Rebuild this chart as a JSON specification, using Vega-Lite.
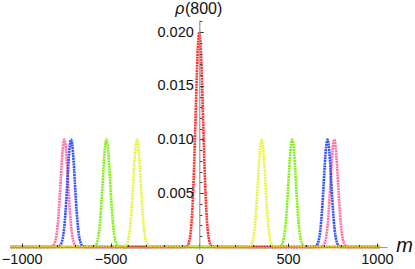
{
  "$schema": "https://vega.github.io/schema/vega-lite/v6.json",
  "width": 377,
  "height": 229,
  "autosize": "none",
  "padding": {"left": 10, "top": 20, "right": 28, "bottom": 20},
  "background": "white",
  "config": {"view": {"stroke": null}},
  "resolve": {"axis": {"x": "independent", "y": "independent"}},
  "layer": [
  {
  "data": {"values": [
    {"s":"pink","m":-1062,"p":0},
    {"s":"pink","m":-848,"p":0},{"s":"pink","m":-832,"p":0.00003},{"s":"pink","m":-824,"p":0.0001},{"s":"pink","m":-816,"p":0.00029},{"s":"pink","m":-808,"p":0.00073},{"s":"pink","m":-800,"p":0.00163},{"s":"pink","m":-792,"p":0.00313},{"s":"pink","m":-784,"p":0.0052},{"s":"pink","m":-776,"p":0.00748},{"s":"pink","m":-768,"p":0.0093},{"s":"pink","m":-760,"p":0.01},{"s":"pink","m":-752,"p":0.0093},{"s":"pink","m":-744,"p":0.00748},{"s":"pink","m":-736,"p":0.0052},{"s":"pink","m":-728,"p":0.00313},{"s":"pink","m":-720,"p":0.00163},{"s":"pink","m":-712,"p":0.00073},{"s":"pink","m":-704,"p":0.00029},{"s":"pink","m":-696,"p":0.0001},{"s":"pink","m":-688,"p":0.00003},{"s":"pink","m":-672,"p":0},
    {"s":"pink","m":672,"p":0},{"s":"pink","m":688,"p":0.00003},{"s":"pink","m":696,"p":0.0001},{"s":"pink","m":704,"p":0.00029},{"s":"pink","m":712,"p":0.00073},{"s":"pink","m":720,"p":0.00163},{"s":"pink","m":728,"p":0.00313},{"s":"pink","m":736,"p":0.0052},{"s":"pink","m":744,"p":0.00748},{"s":"pink","m":752,"p":0.0093},{"s":"pink","m":760,"p":0.01},{"s":"pink","m":768,"p":0.0093},{"s":"pink","m":776,"p":0.00748},{"s":"pink","m":784,"p":0.0052},{"s":"pink","m":792,"p":0.00313},{"s":"pink","m":800,"p":0.00163},{"s":"pink","m":808,"p":0.00073},{"s":"pink","m":816,"p":0.00029},{"s":"pink","m":824,"p":0.0001},{"s":"pink","m":832,"p":0.00003},{"s":"pink","m":848,"p":0},
    {"s":"pink","m":1018,"p":0},
    {"s":"blue","m":-1062,"p":0},
    {"s":"blue","m":-810,"p":0},{"s":"blue","m":-794,"p":0.00003},{"s":"blue","m":-786,"p":0.0001},{"s":"blue","m":-778,"p":0.00029},{"s":"blue","m":-770,"p":0.00073},{"s":"blue","m":-762,"p":0.00163},{"s":"blue","m":-754,"p":0.00313},{"s":"blue","m":-746,"p":0.0052},{"s":"blue","m":-738,"p":0.00748},{"s":"blue","m":-730,"p":0.0093},{"s":"blue","m":-722,"p":0.01},{"s":"blue","m":-714,"p":0.0093},{"s":"blue","m":-706,"p":0.00748},{"s":"blue","m":-698,"p":0.0052},{"s":"blue","m":-690,"p":0.00313},{"s":"blue","m":-682,"p":0.00163},{"s":"blue","m":-674,"p":0.00073},{"s":"blue","m":-666,"p":0.00029},{"s":"blue","m":-658,"p":0.0001},{"s":"blue","m":-650,"p":0.00003},{"s":"blue","m":-634,"p":0},
    {"s":"blue","m":634,"p":0},{"s":"blue","m":650,"p":0.00003},{"s":"blue","m":658,"p":0.0001},{"s":"blue","m":666,"p":0.00029},{"s":"blue","m":674,"p":0.00073},{"s":"blue","m":682,"p":0.00163},{"s":"blue","m":690,"p":0.00313},{"s":"blue","m":698,"p":0.0052},{"s":"blue","m":706,"p":0.00748},{"s":"blue","m":714,"p":0.0093},{"s":"blue","m":722,"p":0.01},{"s":"blue","m":730,"p":0.0093},{"s":"blue","m":738,"p":0.00748},{"s":"blue","m":746,"p":0.0052},{"s":"blue","m":754,"p":0.00313},{"s":"blue","m":762,"p":0.00163},{"s":"blue","m":770,"p":0.00073},{"s":"blue","m":778,"p":0.00029},{"s":"blue","m":786,"p":0.0001},{"s":"blue","m":794,"p":0.00003},{"s":"blue","m":810,"p":0},
    {"s":"blue","m":1018,"p":0},
    {"s":"green","m":-1062,"p":0},
    {"s":"green","m":-611,"p":0},{"s":"green","m":-595,"p":0.00003},{"s":"green","m":-587,"p":0.0001},{"s":"green","m":-579,"p":0.00029},{"s":"green","m":-571,"p":0.00073},{"s":"green","m":-563,"p":0.00163},{"s":"green","m":-555,"p":0.00313},{"s":"green","m":-547,"p":0.0052},{"s":"green","m":-539,"p":0.00748},{"s":"green","m":-531,"p":0.0093},{"s":"green","m":-523,"p":0.01},{"s":"green","m":-515,"p":0.0093},{"s":"green","m":-507,"p":0.00748},{"s":"green","m":-499,"p":0.0052},{"s":"green","m":-491,"p":0.00313},{"s":"green","m":-483,"p":0.00163},{"s":"green","m":-475,"p":0.00073},{"s":"green","m":-467,"p":0.00029},{"s":"green","m":-459,"p":0.0001},{"s":"green","m":-451,"p":0.00003},{"s":"green","m":-435,"p":0},
    {"s":"green","m":435,"p":0},{"s":"green","m":451,"p":0.00003},{"s":"green","m":459,"p":0.0001},{"s":"green","m":467,"p":0.00029},{"s":"green","m":475,"p":0.00073},{"s":"green","m":483,"p":0.00163},{"s":"green","m":491,"p":0.00313},{"s":"green","m":499,"p":0.0052},{"s":"green","m":507,"p":0.00748},{"s":"green","m":515,"p":0.0093},{"s":"green","m":523,"p":0.01},{"s":"green","m":531,"p":0.0093},{"s":"green","m":539,"p":0.00748},{"s":"green","m":547,"p":0.0052},{"s":"green","m":555,"p":0.00313},{"s":"green","m":563,"p":0.00163},{"s":"green","m":571,"p":0.00073},{"s":"green","m":579,"p":0.00029},{"s":"green","m":587,"p":0.0001},{"s":"green","m":595,"p":0.00003},{"s":"green","m":611,"p":0},
    {"s":"green","m":1018,"p":0},
    {"s":"red","m":-1062,"p":0},
    {"s":"red","m":-88,"p":0},{"s":"red","m":-72,"p":0.00006},{"s":"red","m":-64,"p":0.00019},{"s":"red","m":-56,"p":0.00057},{"s":"red","m":-48,"p":0.00147},{"s":"red","m":-40,"p":0.00326},{"s":"red","m":-32,"p":0.00626},{"s":"red","m":-24,"p":0.0104},{"s":"red","m":-16,"p":0.01496},{"s":"red","m":-8,"p":0.0186},{"s":"red","m":0,"p":0.02},{"s":"red","m":8,"p":0.0186},{"s":"red","m":16,"p":0.01496},{"s":"red","m":24,"p":0.0104},{"s":"red","m":32,"p":0.00626},{"s":"red","m":40,"p":0.00326},{"s":"red","m":48,"p":0.00147},{"s":"red","m":56,"p":0.00057},{"s":"red","m":64,"p":0.00019},{"s":"red","m":72,"p":0.00006},{"s":"red","m":88,"p":0},
    {"s":"red","m":1018,"p":0},
    {"s":"yellow","m":-1062,"p":0},
    {"s":"yellow","m":-439,"p":0},{"s":"yellow","m":-423,"p":0.00003},{"s":"yellow","m":-415,"p":0.0001},{"s":"yellow","m":-407,"p":0.00029},{"s":"yellow","m":-399,"p":0.00073},{"s":"yellow","m":-391,"p":0.00163},{"s":"yellow","m":-383,"p":0.00313},{"s":"yellow","m":-375,"p":0.0052},{"s":"yellow","m":-367,"p":0.00748},{"s":"yellow","m":-359,"p":0.0093},{"s":"yellow","m":-351,"p":0.01},{"s":"yellow","m":-343,"p":0.0093},{"s":"yellow","m":-335,"p":0.00748},{"s":"yellow","m":-327,"p":0.0052},{"s":"yellow","m":-319,"p":0.00313},{"s":"yellow","m":-311,"p":0.00163},{"s":"yellow","m":-303,"p":0.00073},{"s":"yellow","m":-295,"p":0.00029},{"s":"yellow","m":-287,"p":0.0001},{"s":"yellow","m":-279,"p":0.00003},{"s":"yellow","m":-263,"p":0},
    {"s":"yellow","m":263,"p":0},{"s":"yellow","m":279,"p":0.00003},{"s":"yellow","m":287,"p":0.0001},{"s":"yellow","m":295,"p":0.00029},{"s":"yellow","m":303,"p":0.00073},{"s":"yellow","m":311,"p":0.00163},{"s":"yellow","m":319,"p":0.00313},{"s":"yellow","m":327,"p":0.0052},{"s":"yellow","m":335,"p":0.00748},{"s":"yellow","m":343,"p":0.0093},{"s":"yellow","m":351,"p":0.01},{"s":"yellow","m":359,"p":0.0093},{"s":"yellow","m":367,"p":0.00748},{"s":"yellow","m":375,"p":0.0052},{"s":"yellow","m":383,"p":0.00313},{"s":"yellow","m":391,"p":0.00163},{"s":"yellow","m":399,"p":0.00073},{"s":"yellow","m":407,"p":0.00029},{"s":"yellow","m":415,"p":0.0001},{"s":"yellow","m":423,"p":0.00003},{"s":"yellow","m":439,"p":0},
    {"s":"yellow","m":1018,"p":0}
  ]},
  "mark": {"type": "line", "strokeWidth": 2.6, "strokeDash": [2, 0.7], "opacity": 0.9, "interpolate": "monotone", "clip": false},
  "encoding": {
    "x": {"field": "m", "type": "quantitative",
      "scale": {"domain": [-1066, 1057], "nice": false, "zero": false},
      "axis": {
        "orient": "bottom", "offset": -2, "zindex": 1,
        "values": [-1000,-900,-800,-700,-600,-500,-400,-300,-200,-100,0,100,200,300,400,500,600,700,800,900,1000],
        "format": "d",
        "labelExpr": "datum.value % 500 === 0 ? datum.label : ''",
        "labelOverlap": false,
        "grid": false,
        "domainColor": "#999999", "domainWidth": 1.2,
        "tickColor": "#333333", "tickWidth": 1,
        "tickSize": {"condition": {"test": "datum.value % 500 === 0", "value": -4}, "value": -2.5},
        "labelPadding": 9,
        "labelFont": "Liberation Sans", "labelFontSize": 14.5, "labelColor": "#111111",
        "title": "m", "titleFont": "Liberation Sans", "titleFontStyle": "italic", "titleFontWeight": "normal", "titleFontSize": 20, "titleColor": "#111111",
        "titleAlign": "center", "titleBaseline": "alphabetic", "titleX": 394, "titleY": 4
      }
    },
    "y": {"field": "p", "type": "quantitative",
      "scale": {"domain": [-0.00019, 0.02112], "nice": false, "zero": false},
      "axis": {
        "orient": "left", "offset": -189.3, "zindex": 1,
        "values": [0.001,0.002,0.003,0.004,0.005,0.006,0.007,0.008,0.009,0.01,0.011,0.012,0.013,0.014,0.015,0.016,0.017,0.018,0.019,0.02,0.021],
        "format": ".3f",
        "labelExpr": "indexof([0.005,0.01,0.015,0.02], datum.value) >= 0 ? datum.label : ''",
        "labelOverlap": false,
        "grid": false,
        "domainColor": "#999999", "domainWidth": 1.2,
        "tickColor": "#333333", "tickWidth": 1,
        "tickSize": {"condition": {"test": "indexof([0.005,0.01,0.015,0.02], datum.value) >= 0", "value": -4}, "value": -2.5},
        "labelPadding": 10,
        "labelFont": "Liberation Sans", "labelFontSize": 14.5, "labelColor": "#111111",
        "title": "ρ", "titleFont": "Liberation Sans", "titleFontStyle": "italic", "titleFontWeight": "normal", "titleFontSize": 16, "titleColor": "#111111",
        "titleAngle": 0, "titleAlign": "center", "titleBaseline": "alphabetic", "titleX": -20, "titleY": -6.5
      }
    },
    "color": {"field": "s", "type": "nominal",
      "scale": {"domain": ["pink","blue","green","red","yellow"], "range": ["#ff5f9e","#1f3dff","#74f000","#ff1a1a","#e6f22e"]},
      "legend": null
    }
  }
  },
  {
    "data": {"values": [{"t": "(800)", "m": 0, "p": 0.02112}]},
    "mark": {"type": "text", "align": "left", "baseline": "alphabetic", "dx": -14.3, "dy": -6.5, "font": "Liberation Sans", "fontSize": 16, "color": "#111111", "clip": false},
    "encoding": {
      "x": {"field": "m", "type": "quantitative", "axis": null},
      "y": {"field": "p", "type": "quantitative", "axis": null},
      "text": {"field": "t"}
    }
  }
  ]
}
